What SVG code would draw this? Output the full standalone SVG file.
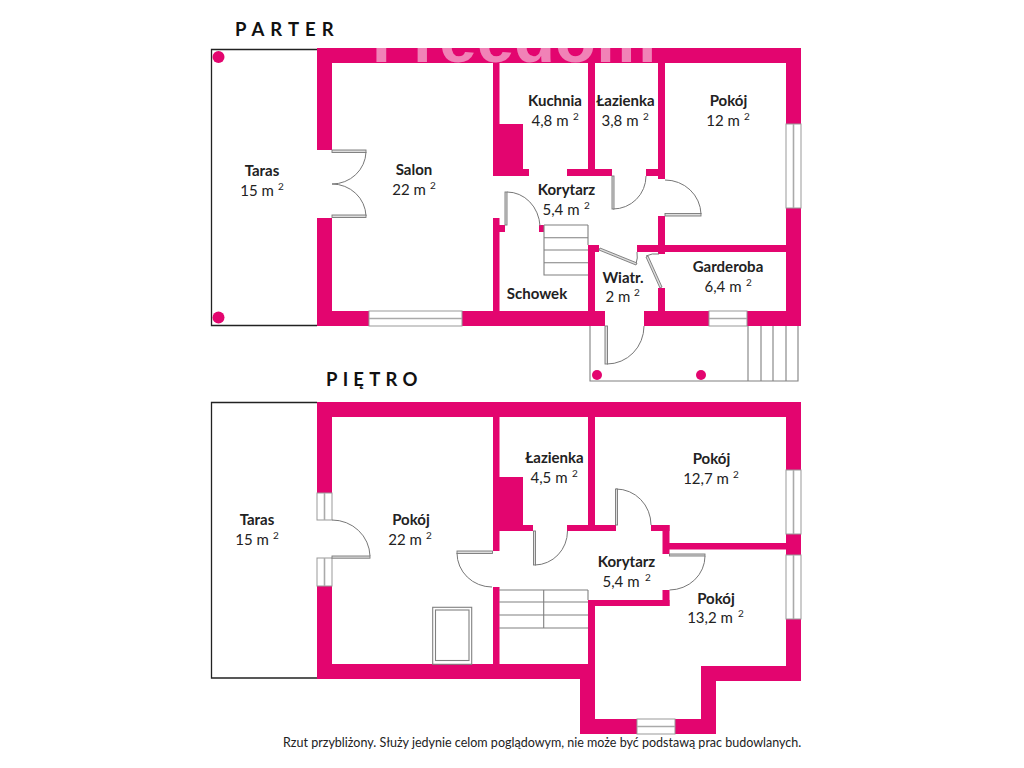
<svg xmlns="http://www.w3.org/2000/svg" width="1024" height="768" viewBox="0 0 1024 768">
<style>
.w{fill:#e3056f}
.t{fill:none;stroke:#222;stroke-width:1.3}
.l{fill:none;stroke:#777;stroke-width:1}
.s{fill:none;stroke:#808080;stroke-width:1.1}
.win{fill:#fff;stroke:#999;stroke-width:1}
.m{fill:none;stroke:#aaa;stroke-width:1.6}
.leaf{fill:#ddd;stroke:#777;stroke-width:.9}
.d{fill:#e3056f}
text{font-family:"Lato","Liberation Sans",sans-serif;fill:#222;text-anchor:middle}
.n{font-size:15px;font-weight:700}
.a{font-size:15px}
.u{font-size:10px}
.h{font-size:18.500px;font-weight:700;text-anchor:start;letter-spacing:6px;fill:#111}
.h2{letter-spacing:5.200px}
.f{font-size:12.520px;text-anchor:start}
.wm{font-family:"Liberation Sans",sans-serif;font-size:66px;font-weight:700;fill:#fff;fill-opacity:.5;text-anchor:start}
</style>
<rect width="1024" height="768" fill="#fff"/>
<g id="parter">
<text class="h" x="235" y="36">PARTER</text>
<path class="t" d="M317 49.500H211.500V325.500H317"/>
<g id="parter-walls">
<rect class="w" x="317" y="48" width="484" height="15"/>
<rect class="w" x="317" y="48" width="15" height="102"/>
<rect class="w" x="317" y="218" width="15" height="108"/>
<rect class="w" x="317" y="311" width="52" height="15"/>
<rect class="w" x="462" y="311" width="143" height="15"/>
<rect class="w" x="644" y="311" width="65" height="15"/>
<rect class="w" x="747" y="311" width="54" height="15"/>
<rect class="w" x="786" y="48" width="15" height="76"/>
<rect class="w" x="786" y="208" width="15" height="118"/>
<rect class="w" x="493" y="63" width="6.500" height="113"/>
<rect class="w" x="499" y="124" width="24" height="52"/>
<rect class="w" x="493" y="169" width="36" height="7"/>
<rect class="w" x="567" y="169" width="45" height="7"/>
<rect class="w" x="588" y="63" width="7" height="108"/>
<rect class="w" x="646" y="169" width="19" height="7"/>
<rect class="w" x="658" y="63" width="7" height="116"/>
<rect class="w" x="658" y="216" width="7" height="38"/>
<rect class="w" x="637" y="245" width="149" height="7"/>
<rect class="w" x="658" y="288" width="7" height="25"/>
<rect class="w" x="493" y="218" width="6.500" height="95"/>
<rect class="w" x="493" y="225" width="12" height="7"/>
<rect class="w" x="539" y="225" width="5" height="7"/>
<rect class="w" x="588" y="245" width="7" height="68"/>
<rect class="w" x="588" y="245" width="11" height="7"/>
</g>
<text class="wm" x="372" y="62" textLength="284" lengthAdjust="spacingAndGlyphs">Freedom</text>
<g id="parter-windows">
<rect class="win" x="369" y="311" width="93" height="15"/><path class="m" d="M369 318.500H462"/>
<rect class="win" x="709" y="311" width="38" height="15"/><path class="m" d="M709 318.500H747"/>
<rect class="win" x="786" y="124" width="15" height="84"/><path class="m" d="M793.500 124V208"/>
</g>
<g id="parter-stairs">
<path class="s" d="M544 225H588M544 225V275H588M544 237.700H588M544 250H588M544 262.700H588M588 225V245"/>
<path class="s" d="M590 326V381H798V326M748 326V381M761 326V381M773 326V381M786 326V381"/>
</g>
<g id="parter-doors">
<path class="l" d="M366 152A34 33 0 0 1 332 184A34 33 0 0 1 366 216"/>
<rect class="leaf" x="332" y="150" width="34" height="2.500"/>
<rect class="leaf" x="332" y="215" width="34" height="2.500"/>
<path class="l" d="M665 180A36 35 0 0 1 701 214"/>
<rect class="leaf" x="665" y="213.500" width="36" height="2.500"/>
<path class="l" d="M613 209A33 33 0 0 0 646 176"/>
<rect class="leaf" x="612" y="176" width="2" height="33"/>
<path class="l" d="M507 192A33 36 0 0 1 540 226"/>
<rect class="leaf" x="505" y="192" width="2" height="33"/>
<path class="l" d="M607 364A37 38 0 0 0 644 326"/>
<rect class="leaf" x="605" y="326" width="2.500" height="38"/>
<path class="l" d="M636 264Q638 258 637 252"/>
<polygon class="leaf" points="599,250 636,265 637,263 600,248"/>
<path class="l" d="M646 256Q652 253 659 254"/>
<polygon class="leaf" points="646,257 660,288 662,287 648,256"/>
</g>
<g id="parter-columns">
<circle class="d" cx="218.500" cy="57" r="6"/>
<circle class="d" cx="218.500" cy="317.500" r="6"/>
<circle class="d" cx="597" cy="375" r="5"/>
<circle class="d" cx="701" cy="375" r="5"/>
</g>
<g id="room-taras-1"><text class="n" x="262" y="176">Taras</text><text class="a" x="257" y="196">15 m</text><text class="u" x="281" y="190">2</text></g>
<g id="room-salon"><text class="n" x="414" y="175">Salon</text><text class="a" x="409" y="195">22 m</text><text class="u" x="433" y="189">2</text></g>
<g id="room-kuchnia"><text class="n" x="555" y="106">Kuchnia</text><text class="a" x="550" y="126">4,8 m</text><text class="u" x="576" y="120">2</text></g>
<g id="room-lazienka-1"><text class="n" x="625.500" y="106">Łazienka</text><text class="a" x="620" y="126">3,8 m</text><text class="u" x="646" y="120">2</text></g>
<g id="room-pokoj-1"><text class="n" x="728.500" y="106">Pokój</text><text class="a" x="723" y="126">12 m</text><text class="u" x="747" y="120">2</text></g>
<g id="room-korytarz-1"><text class="n" x="566.500" y="195">Korytarz</text><text class="a" x="561" y="215">5,4 m</text><text class="u" x="587" y="209">2</text></g>
<g id="room-wiatr"><text class="n" x="623" y="283">Wiatr.</text><text class="a" x="618" y="302">2 m</text><text class="u" x="637" y="296">2</text></g>
<g id="room-schowek"><text class="n" x="537" y="299">Schowek</text></g>
<g id="room-garderoba"><text class="n" x="728" y="272">Garderoba</text><text class="a" x="723" y="292">6,4 m</text><text class="u" x="749" y="286">2</text></g>
</g>
<g id="pietro">
<text class="h h2" x="326" y="386">PIĘTRO</text>
<path class="t" d="M317 402.500H211.500V678H317"/>
<g id="pietro-walls">
<rect class="w" x="317" y="402" width="484" height="15"/>
<rect class="w" x="317" y="402" width="15" height="91"/>
<rect class="w" x="317" y="586" width="15" height="93"/>
<rect class="w" x="317" y="664" width="278" height="15"/>
<rect class="w" x="786" y="402" width="15" height="68"/>
<rect class="w" x="786" y="534" width="15" height="21"/>
<rect class="w" x="786" y="619" width="15" height="62"/>
<rect class="w" x="493" y="417" width="6.500" height="134"/>
<rect class="w" x="493" y="587" width="6.500" height="78"/>
<rect class="w" x="499" y="477" width="24" height="48"/>
<rect class="w" x="493" y="525" width="40" height="6"/>
<rect class="w" x="567" y="525" width="49" height="6"/>
<rect class="w" x="588" y="417" width="7" height="110"/>
<rect class="w" x="651" y="525" width="18.500" height="6"/>
<rect class="w" x="662.500" y="525" width="7" height="29"/>
<rect class="w" x="669" y="543" width="117" height="6.500"/>
<rect class="w" x="662.500" y="590" width="7" height="16"/>
<rect class="w" x="588" y="600" width="81.500" height="6"/>
<rect class="w" x="588" y="600" width="7" height="65"/>
<rect class="w" x="580" y="664" width="15" height="70"/>
<rect class="w" x="580" y="719" width="57" height="15"/>
<rect class="w" x="675" y="719" width="41" height="15"/>
<rect class="w" x="701" y="666" width="15" height="68"/>
<rect class="w" x="701" y="666" width="100" height="15"/>
</g>
<g id="pietro-windows">
<rect class="win" x="317" y="493" width="15" height="27"/><path class="m" d="M324.500 493V520"/>
<rect class="win" x="317" y="558" width="15" height="28"/><path class="m" d="M324.500 558V586"/>
<rect class="win" x="786" y="470" width="15" height="64"/><path class="m" d="M793.500 470V534"/>
<rect class="win" x="786" y="555" width="15" height="64"/><path class="m" d="M793.500 555V619"/>
<rect class="win" x="637" y="719" width="38" height="15"/><path class="m" d="M637 726.500H675"/>
</g>
<g id="pietro-stairs">
<path class="s" d="M499 590H588M499 602H588M499 615H588M499 628H588M543.700 590V628"/>
<path class="s" d="M588 590V600"/>
<rect class="s" x="432.700" y="607.300" width="39" height="57"/>
<rect class="s" x="435.500" y="610" width="33.500" height="50.500"/>
</g>
<g id="pietro-doors">
<path class="l" d="M332 520A38 37 0 0 1 370 556"/>
<rect class="leaf" x="332" y="556" width="38" height="2.200"/>
<path class="l" d="M457 553A35 34 0 0 0 492 587"/>
<rect class="leaf" x="457" y="551" width="35.500" height="2.500"/>
<path class="l" d="M535 565A33 34 0 0 0 567.500 531"/>
<rect class="leaf" x="533.500" y="531" width="2" height="34"/>
<path class="l" d="M616 489A35 36 0 0 1 651 525"/>
<rect class="leaf" x="615.500" y="489" width="2" height="36"/>
<path class="l" d="M705 556A36 34 0 0 1 669.500 590"/>
<rect class="leaf" x="669.500" y="554" width="35.500" height="2"/>
</g>
<g id="room-taras-2"><text class="n" x="257" y="525">Taras</text><text class="a" x="252" y="545">15 m</text><text class="u" x="276" y="539">2</text></g>
<g id="room-pokoj-2"><text class="n" x="411" y="525">Pokój</text><text class="a" x="405" y="545">22 m</text><text class="u" x="429" y="539">2</text></g>
<g id="room-lazienka-2"><text class="n" x="554.500" y="463">Łazienka</text><text class="a" x="549" y="483">4,5 m</text><text class="u" x="575" y="477">2</text></g>
<g id="room-pokoj-3"><text class="n" x="711.500" y="464">Pokój</text><text class="a" x="706" y="484">12,7 m</text><text class="u" x="736" y="478">2</text></g>
<g id="room-korytarz-2"><text class="n" x="626.500" y="567">Korytarz</text><text class="a" x="621" y="587">5,4 m</text><text class="u" x="648" y="581">2</text></g>
<g id="room-pokoj-4"><text class="n" x="716" y="604">Pokój</text><text class="a" x="710" y="623">13,2 m</text><text class="u" x="741" y="617">2</text></g>
</g>
<text class="f" x="283" y="747">Rzut przybliżony. Służy jedynie celom poglądowym, nie może być podstawą prac budowlanych.</text>
</svg>
